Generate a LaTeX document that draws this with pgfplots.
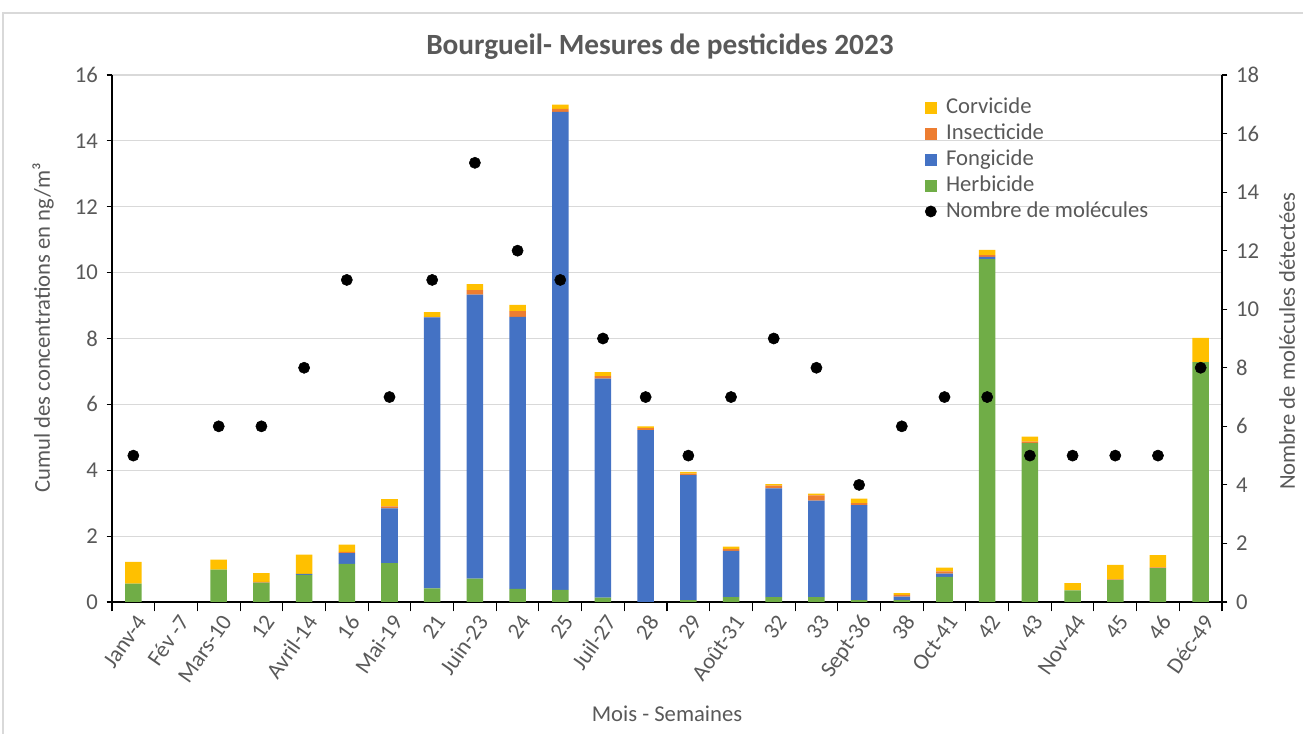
\documentclass[border=0pt]{standalone}
\usepackage{pgfplots}
\pgfplotsset{compat=1.18}
\usepackage{pgfplotstable}
\usepackage{fontspec}
\setmainfont{Carlito}

\definecolor{colH}{HTML}{70AD47}
\definecolor{colF}{HTML}{4472C4}
\definecolor{colI}{HTML}{ED7D31}
\definecolor{colC}{HTML}{FFC000}
\definecolor{textgray}{HTML}{595959}
\definecolor{gridgray}{HTML}{D9D9D9}

% concentrations cumulées (ng/m3) par semaine
\pgfplotstableread{
x  H     F     I     C
0  0.56  0     0     0.66
1  0     0     0     0
2  0.98  0     0     0.31
3  0.59  0     0.02  0.27
4  0.82  0.03  0     0.59
5  1.16  0.32  0.04  0.22
6  1.18  1.66  0.06  0.22
7  0.41  8.23  0.02  0.14
8  0.71  8.62  0.14  0.18
9  0.40  8.26  0.17  0.19
10 0.37  14.51 0.09  0.13
11 0.13  6.65  0.08  0.12
12 0     5.22  0.06  0.05
13 0.06  3.79  0.05  0.05
14 0.15  1.40  0.06  0.07
15 0.15  3.30  0.08  0.05
16 0.15  2.93  0.16  0.05
17 0.06  2.88  0.06  0.14
18 0.06  0.10  0.06  0.05
19 0.76  0.10  0.07  0.11
20 10.41 0.07  0.05  0.16
21 4.82  0     0.05  0.15
22 0.35  0     0     0.22
23 0.67  0     0.02  0.44
24 1.03  0     0.02  0.37
25 7.28  0     0     0.74
}\bars

% nombre de molécules détectées
\pgfplotstableread{
x  n
0  5
2  6
3  6
4  8
5  11
6  7
7  11
8  15
9  12
10 11
11 9
12 7
13 5
14 7
15 9
16 8
17 4
18 6
19 7
20 7
21 5
22 5
23 5
24 5
25 8
}\molecules

\newcommand{\lblfont}{\fontsize{17}{20}\selectfont}

\begin{document}
\begin{tikzpicture}
\pgfplotsset{
  every axis/.append style={
    width=832.5pt, height=395.25pt, scale only axis,
    xmin=-0.5, xmax=25.5,
    /pgf/number format/assume math mode=true,
    label style={font=\lblfont, text=textgray},
    tick align=outside,
    major tick length=4pt,
    axis line style={black, line width=0.8pt},
    every tick/.style={black, line width=0.8pt},
  }
}
\begin{axis}[
  ybar stacked, bar width=12.4pt,
  ymin=0, ymax=16, ytick={0,2,...,16},
  axis x line*=bottom, axis y line*=left,
  ymajorgrids, grid style={draw=gridgray, line width=0.8pt},
  xtick={0,...,25},
  xticklabels={Janv-4, Fév -7, Mars-10, 12, Avril-14, 16, Mai-19, 21, Juin-23, 24, 25, Juil-27, 28, 29, Août-31, 32, 33, Sept-36, 38, Oct-41, 42, 43, Nov-44, 45, 46, Déc-49},
  major x tick style={draw=none},
  minor xtick={-0.5,0.5,...,25.5},
  minor tick length=7pt,
  xticklabel style={font=\lblfont, text=textgray, xshift=8pt, yshift=-5pt, rotate=55, anchor=east},
  yticklabel style={font=\lblfont, text=textgray, xshift=-3pt},
  title={Bourgueil- Mesures de pesticides 2023},
  title style={font=\fontsize{22}{26}\selectfont\bfseries, text=textgray,
    at={(axis description cs:0.4937,1.038)}, anchor=center},
  xlabel={Mois - Semaines},
  xlabel style={at={(axis description cs:0.5,-0.2125)}, anchor=center},
  ylabel={Cumul des concentrations en ng/m³},
  ylabel style={at={(axis description cs:-0.062,0.52)}, anchor=center},
]
\addplot[fill=colH, draw=none] table[x=x, y=H] {\bars};
\addplot[fill=colF, draw=none] table[x=x, y=F] {\bars};
\addplot[fill=colI, draw=none] table[x=x, y=I] {\bars};
\addplot[fill=colC, draw=none] table[x=x, y=C] {\bars};
\end{axis}

\begin{axis}[
  ymin=0, ymax=18, ytick={0,2,...,18},
  axis y line*=right, axis x line=none,
  yticklabel style={font=\lblfont, text=textgray, xshift=3pt},
  ylabel={Nombre de molécules détectées},
  ylabel style={at={(axis description cs:1.0586,0.495)}, anchor=center},
  legend style={at={(rel axis cs:0.7324,0.958)}, anchor=north west,
    draw=none, fill=none, inner sep=0pt, outer sep=0pt,
    font=\lblfont, text=textgray,
    nodes={inner sep=0pt, text height=12pt, text depth=3.5pt},
    row sep=4pt},
  legend cell align=left,
]
\addlegendimage{legend image code/.code={\fill[colC] (0pt,-4.1pt) rectangle (8.2pt,4.1pt);}}
\addlegendentry{\hspace{7pt}Corvicide}
\addlegendimage{legend image code/.code={\fill[colI] (0pt,-4.1pt) rectangle (8.2pt,4.1pt);}}
\addlegendentry{\hspace{7pt}Insecticide}
\addlegendimage{legend image code/.code={\fill[colF] (0pt,-4.1pt) rectangle (8.2pt,4.1pt);}}
\addlegendentry{\hspace{7pt}Fongicide}
\addlegendimage{legend image code/.code={\fill[colH] (0pt,-4.1pt) rectangle (8.2pt,4.1pt);}}
\addlegendentry{\hspace{7pt}Herbicide}
\addlegendimage{legend image code/.code={\fill[black] (4.1pt,0pt) circle (4.2pt);}}
\addlegendentry{\hspace{7pt}Nombre de molécules}
\addplot[only marks, mark=*, mark size=4.2pt, black, forget plot] table[x=x, y=n] {\molecules};
\end{axis}

\draw[gridgray, line width=0.8pt] (-81.75pt,-99pt) -- (-81.75pt,441.75pt) -- (893.25pt,441.75pt);
\pgfresetboundingbox
\useasboundingbox (-84pt,-99pt) rectangle (893.25pt,451.5pt);
\end{tikzpicture}
\end{document}
